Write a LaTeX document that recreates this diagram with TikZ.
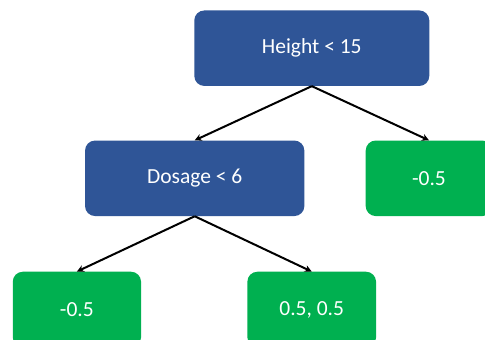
\documentclass[tikz,border=0pt]{standalone}
\usepackage{fontspec}
\setmainfont{Carlito}
\usetikzlibrary{arrows.meta}
\definecolor{nodeblue}{HTML}{2F5597}
\definecolor{leafgreen}{HTML}{00B050}
\tikzset{
  box/.style={rectangle, rounded corners=10pt, inner sep=0pt, minimum height=75.5pt,
    text=white, font=\fontsize{21.5pt}{24pt}\selectfont},
  splitbox/.style={box, fill=nodeblue},
  leafbox/.style={box, fill=leafgreen},
  link/.style={line width=2pt, -{Stealth[length=7pt,width=7pt]}}
}
\begin{document}
\begin{tikzpicture}[x=1pt,y=1pt]
\useasboundingbox (0,0) rectangle (485,340);
\clip (0,0) rectangle (485,340);
\fill[white] (0,0) rectangle (485,340);
\node[splitbox, minimum width=235pt] (h) at (311.8,291.8) {Height < 15};
\node[splitbox, minimum width=219.3pt] (d) at (194.7,161.7) {Dosage < 6};
\node[leafbox, minimum width=126.6pt] (r) at (429,161.7) {-0.5};
\node[leafbox, minimum width=128.3pt] (ll) at (76.9,30.5) {-0.5};
\node[leafbox, minimum width=128.7pt] (lr) at (311.7,30.5) {0.5, 0.5};
\draw[link] (h.south) -- (d.north);
\draw[link] (h.south) -- (r.north);
\draw[link] (d.south) -- (ll.north);
\draw[link] (d.south) -- (lr.north);
\end{tikzpicture}
\end{document}
